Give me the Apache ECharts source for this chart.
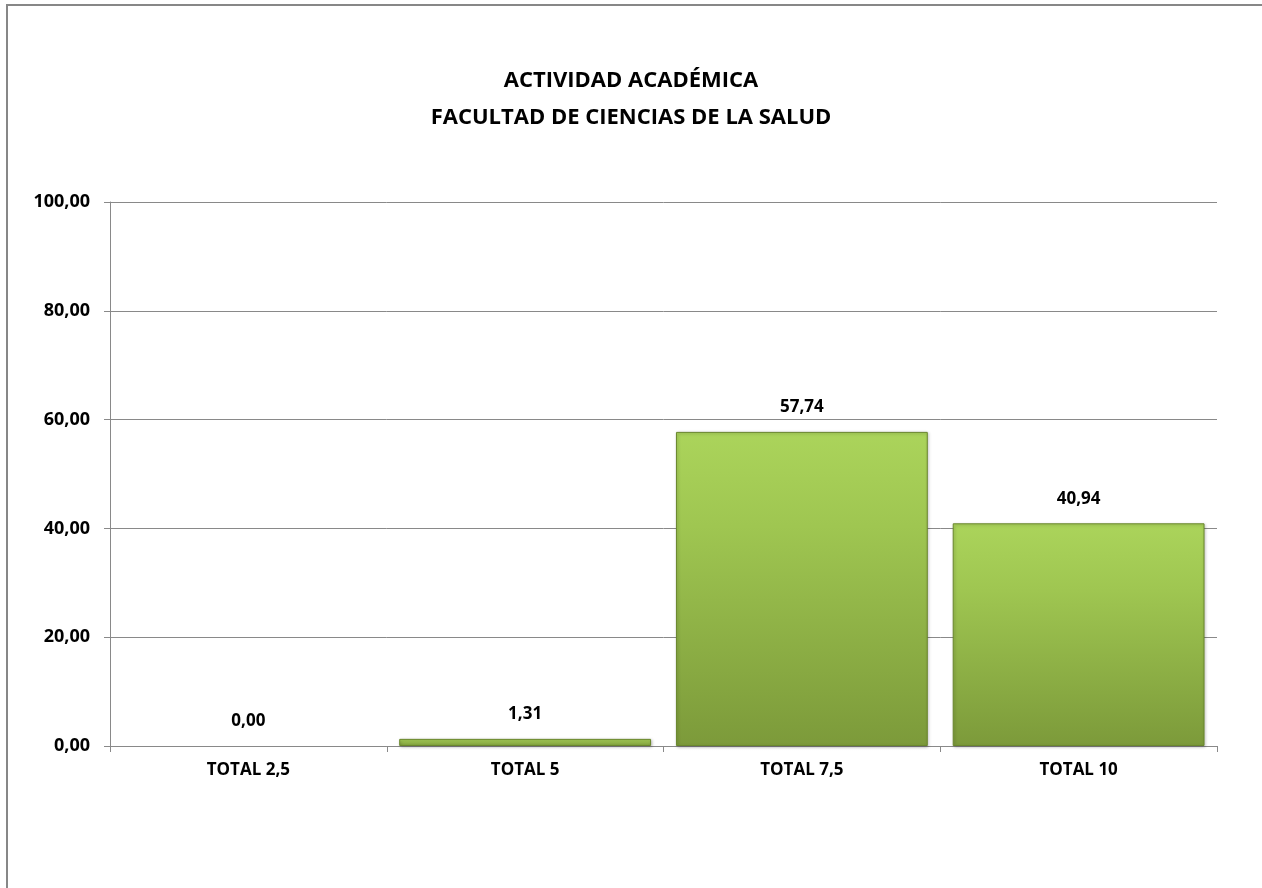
<!DOCTYPE html>
<html>
<head>
<meta charset="utf-8">
<script src="https://cdn.jsdelivr.net/npm/echarts@6/dist/echarts.min.js"></script>
<style>
html,body{margin:0;padding:0;background:#fff;}
#chart{width:1262px;height:888px;}
</style>
</head>
<body>
<div id="chart"></div>
<script>
const titleLines = ['ACTIVIDAD ACADÉMICA', 'FACULTAD DE CIENCIAS DE LA SALUD'];
const categories = ['TOTAL 2,5', 'TOTAL 5', 'TOTAL 7,5', 'TOTAL 10'];
const values = [0.00, 1.31, 57.74, 40.94];
const yMin = 0, yMax = 100, yInterval = 20;

const fmt = v => v.toFixed(2).replace('.', ',');
const FONT = '"Open Sans", "Liberation Sans", sans-serif';

const chart = echarts.init(document.getElementById('chart'));
chart.setOption({
  animation: false,
  backgroundColor: '#ffffff',
  graphic: [{
    type: 'polyline',
    shape: { points: [[7, 900], [7, 5], [1270, 5]] },
    style: { fill: 'none', stroke: '#878787', lineWidth: 2 },
    silent: true
  }],
  title: {
    text: titleLines.join('\n'),
    left: 'center',
    top: 57,
    textStyle: { fontFamily: FONT, fontSize: 22, fontWeight: 'bold', color: '#000', lineHeight: 37 }
  },
  grid: { left: 110, right: 45, top: 202, bottom: 142, containLabel: false },
  xAxis: {
    type: 'category',
    data: categories,
    axisLine: { show: true, lineStyle: { color: '#898989', width: 1 } },
    axisTick: { show: true, alignWithLabel: false, length: 6, lineStyle: { color: '#898989' } },
    axisLabel: { margin: 16, fontFamily: FONT, fontSize: 17, fontWeight: 'bold', color: '#000' }
  },
  yAxis: {
    type: 'value',
    min: yMin, max: yMax, interval: yInterval,
    axisLine: { show: true, lineStyle: { color: '#898989', width: 1 } },
    axisTick: { show: true, length: 6, lineStyle: { color: '#898989' } },
    splitLine: { show: true, lineStyle: { color: '#898989', width: 1 } },
    axisLabel: { margin: 20, fontFamily: FONT, fontSize: 18, fontWeight: 'bold', color: '#000', formatter: v => fmt(v) }
  },
  series: [{
    type: 'bar',
    data: values.map(v => v === 0 ? { value: v, itemStyle: { borderWidth: 0, shadowBlur: 0, shadowOffsetX: 0, shadowOffsetY: 0 } } : v),
    barCategoryGap: '9%',
    itemStyle: {
      color: {
        type: 'linear', x: 0, y: 0, x2: 0, y2: 1,
        colorStops: [
          { offset: 0, color: '#abd45b' },
          { offset: 0.3, color: '#9fc651' },
          { offset: 1, color: '#7c9a3a' }
        ]
      },
      borderColor: '#6a872d',
      borderWidth: 1,
      shadowColor: 'rgba(0,0,0,0.25)',
      shadowBlur: 3,
      shadowOffsetX: 1,
      shadowOffsetY: 1
    },
    label: {
      show: true,
      position: 'top',
      distance: 16,
      formatter: p => fmt(p.value),
      fontFamily: FONT, fontSize: 17, fontWeight: 'bold', color: '#000'
    }
  }]
});
</script>
</body>
</html>
